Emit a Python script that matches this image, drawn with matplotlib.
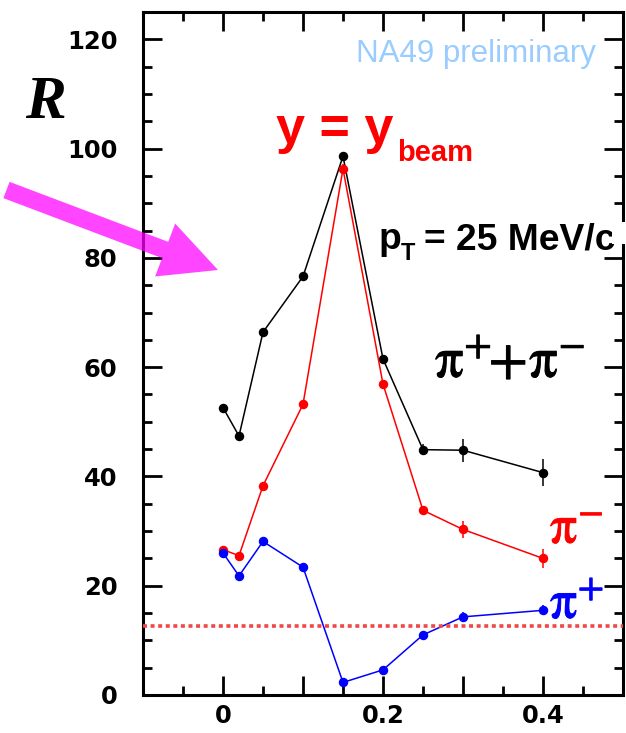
import matplotlib
matplotlib.use("Agg")
import matplotlib.pyplot as plt
import matplotlib.patheffects as pe
from matplotlib.patches import FancyArrow, Rectangle
from matplotlib.ticker import MultipleLocator, FuncFormatter

# ---- data -------------------------------------------------------------
x_vals = [0.0, 0.02, 0.05, 0.10, 0.15, 0.20, 0.25, 0.30, 0.40]

r_sum = [52.6, 47.4, 66.4, 76.6, 98.6, 61.5, 44.9, 44.8, 40.7]
r_sum_err = [0.5, 0.6, 0.6, 0.6, 0.8, 0.8, 1.0, 2.1, 2.5]

r_minus = [26.6, 25.5, 38.3, 53.2, 96.3, 56.9, 33.8, 30.3, 25.0]
r_minus_err = [0.4, 0.4, 0.5, 0.5, 0.8, 0.7, 0.8, 1.5, 1.8]

r_plus = [26.0, 21.8, 28.1, 23.4, 2.3, 4.6, 11.0, 14.3, 15.5]
r_plus_err = [0.4, 0.4, 0.4, 0.4, 0.3, 0.4, 0.5, 0.8, 0.9]

ref_level = 12.7

x_ticks = [0.0, 0.2, 0.4]
x_ticklabels = ["0", "0.2", "0.4"]
y_ticks = [0, 20, 40, 60, 80, 100, 120]
y_ticklabels = ["0", "20", "40", "60", "80", "100", "120"]

# ---- figure geometry (pixels) -----------------------------------------
W, H, DPI = 626, 733, 100
fig = plt.figure(figsize=(W / DPI, H / DPI), dpi=DPI)
fig.patch.set_facecolor("white")


def fx(px):
    return px / W


def fy(py):
    return 1 - py / H


ax_left, ax_right, ax_top, ax_bottom = 143, 623, 12, 695
ax = fig.add_axes([fx(ax_left), fy(ax_bottom),
                   (ax_right - ax_left) / W, (ax_bottom - ax_top) / H])
ax.set_xlim(-0.1, 0.5)
ax.set_ylim(0, 125)

# ---- series -----------------------------------------------------------
series = [
    (r_sum, r_sum_err, "black"),
    (r_minus, r_minus_err, "#ff0000"),
    (r_plus, r_plus_err, "#0000ff"),
]
for vals, errs, col in series:
    ax.errorbar(x_vals, vals, yerr=errs, fmt="-o", color=col, ms=5.8,
                lw=1.1, elinewidth=1.1, capsize=0, zorder=3)

ax.axhline(ref_level, color="#f04848", lw=2.6, ls=(0, (1.1, 1.0)), zorder=4)

# ---- axes styling -----------------------------------------------------
for sp in ax.spines.values():
    sp.set_linewidth(2.2)

ax.xaxis.set_major_locator(MultipleLocator(0.1))
ax.xaxis.set_minor_locator(MultipleLocator(0.05))
ax.yaxis.set_major_locator(MultipleLocator(20))
ax.yaxis.set_minor_locator(MultipleLocator(5))


def xfmt(v, pos):
    for t, lab in zip(x_ticks, x_ticklabels):
        if abs(v - t) < 1e-6:
            return lab
    return ""


def yfmt(v, pos):
    for t, lab in zip(y_ticks, y_ticklabels):
        if abs(v - t) < 1e-6:
            return lab
    return ""


ax.xaxis.set_major_formatter(FuncFormatter(xfmt))
ax.yaxis.set_major_formatter(FuncFormatter(yfmt))

ax.tick_params(which="both", direction="in", top=True, right=True, width=2.0)
ax.tick_params(which="major", length=13.5)
ax.tick_params(which="minor", length=6.5)
ax.tick_params(axis="y", which="major", pad=18.5)
ax.tick_params(axis="x", which="major", pad=6.5)
for lab in ax.get_xticklabels() + ax.get_yticklabels():
    lab.set_fontfamily("DejaVu Sans")
    lab.set_fontweight("bold")
    lab.set_fontsize(17.5)

# ---- annotations ------------------------------------------------------
fig.text(fx(25), fy(118), "R", fontfamily="Liberation Serif", style="italic",
         weight="bold", fontsize=44, va="baseline", ha="left")

fig.text(fx(356), fy(62), "NA49 preliminary", fontfamily="Liberation Sans",
         fontsize=22.5, color="#99ccff", va="baseline", ha="left")

fig.text(fx(276), fy(143), "y = y", fontfamily="Liberation Sans",
         weight="bold", fontsize=37.5, color="#ff0000", va="baseline", ha="left")
fig.text(fx(397), fy(161), "beam", fontfamily="Liberation Sans",
         weight="bold", fontsize=21, color="#ff0000", va="baseline", ha="left")

fig.text(fx(379), fy(249), "p", fontfamily="Liberation Sans",
         weight="bold", fontsize=26.8, color="black", va="baseline", ha="left")
fig.text(fx(401), fy(260), "T", fontfamily="Liberation Sans",
         weight="bold", fontsize=17, color="black", va="baseline", ha="left")
fig.text(fx(424), fy(249), "= 25 MeV/c", fontfamily="Liberation Sans",
         weight="bold", fontsize=26.8, color="black", va="baseline", ha="left")


def heavy(col):
    return [pe.withStroke(linewidth=0.6, foreground=col)]


fig.text(fx(435), fy(377), r"$\mathrm{\pi}^{+}\!\!+\!\mathrm{\pi}^{-}$",
         math_fontfamily="stix", fontsize=41, color="black",
         va="baseline", ha="left", path_effects=heavy("black"))
fig.text(fx(550), fy(543), r"$\mathrm{\pi}^{-}$", math_fontfamily="stix",
         fontsize=39, color="#ff0000", va="baseline", ha="left",
         path_effects=heavy("#ff0000"))
fig.text(fx(550), fy(618), r"$\mathrm{\pi}^{+}$", math_fontfamily="stix",
         fontsize=39, color="#0000ff", va="baseline", ha="left",
         path_effects=heavy("#0000ff"))

# white patch behind the right end of the momentum label
fig.patches.append(Rectangle((612 / DPI, (H - 244) / DPI), 14 / DPI, 22 / DPI,
                             transform=fig.dpi_scale_trans, facecolor="white",
                             edgecolor="none", zorder=5))

# magenta pointer arrow (inch coordinates)
tail = (6.5, 190)
tip = (218, 270)
arrow = FancyArrow(tail[0] / DPI, (H - tail[1]) / DPI,
                   (tip[0] - tail[0]) / DPI, -(tip[1] - tail[1]) / DPI,
                   width=17.4 / DPI, head_width=56.6 / DPI,
                   head_length=56.5 / DPI, length_includes_head=True,
                   transform=fig.dpi_scale_trans, facecolor="#ff00ff",
                   edgecolor="none", alpha=0.73, zorder=6)
fig.patches.append(arrow)

fig.savefig("out.png", dpi=DPI, facecolor="white")
